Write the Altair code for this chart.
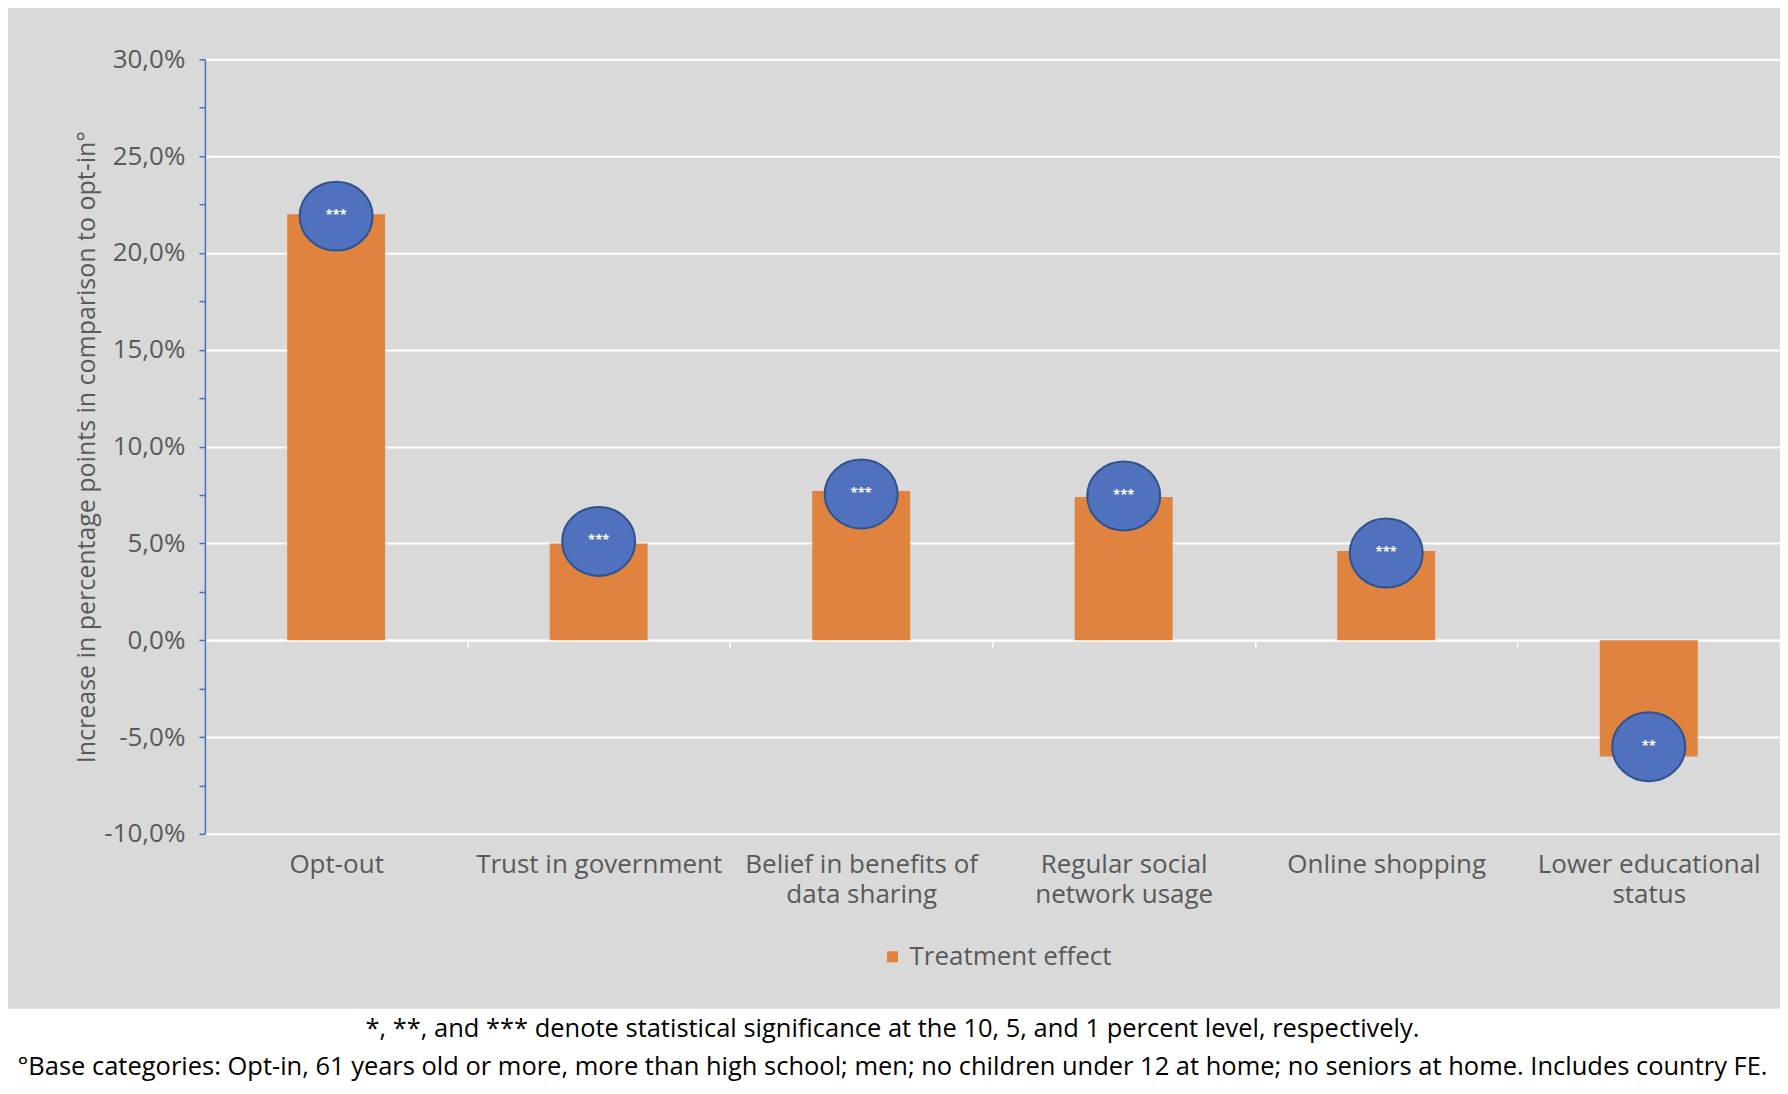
import altair as alt
import pandas as pd

categories = ["Opt-out", "Trust in government", "Belief in benefits of\ndata sharing",
              "Regular social\nnetwork usage", "Online shopping", "Lower educational\nstatus"]
effects = [22.0, 5.0, 7.7, 7.4, 4.6, -6.0]
marker_pos = [21.9, 5.1, 7.55, 7.45, 4.5, -5.5]
stars = ["***", "***", "***", "***", "***", "**"]
series_name = "Treatment effect"
y_ticks = [-10, -7.5, -5, -2.5, 0, 2.5, 5, 7.5, 10, 12.5, 15, 17.5, 20, 22.5, 25, 27.5, 30]
y_title = "Increase in percentage points in comparison to opt-in°"
footnote1 = "*, **, and *** denote statistical significance at the 10, 5, and 1 percent level, respectively."
footnote2 = ("°Base categories: Opt-in, 61 years old or more, more than high school; men; "
             "no children under 12 at home; no seniors at home. Includes country FE.")

df = pd.DataFrame({"cat": categories, "effect": effects, "marker": marker_pos,
                   "stars": stars, "series": [series_name] * len(categories)})

W, H = 1576, 775
FONT = "Open Sans"
GREY_TXT = "#595959"
LBL = 26

xscale = alt.Scale(domain=categories, paddingInner=0, paddingOuter=0)
yscale = alt.Scale(domain=[-10, 30], nice=False, zero=False)

x_enc = alt.X("cat:N", scale=xscale, sort=categories, axis=alt.Axis(
    title=None, orient="bottom", offset=-(H * 10 / 40), tickBand="extent",
    ticks=True, tickColor="white", tickSize=7, tickWidth=1.5,
    domain=True, domainColor="white", domainWidth=2,
    labelExpr="split(datum.label, '\\n')", labelAngle=0, labelLimit=0,
    labelFont=FONT, labelFontSize=LBL, labelColor=GREY_TXT, labelLineHeight=30,
    labelPadding=204, grid=False))

y_enc = alt.Y("effect:Q", scale=yscale, axis=alt.Axis(
    values=y_ticks, title=y_title, titleFont=FONT, titleFontSize=25,
    titleFontWeight="normal", titleColor=GREY_TXT, titleX=-105,
    labelExpr="datum.value % 5 === 0 ? (datum.value < 0 ? '-' : '') + replace(format(abs(datum.value), '.1f'), '.', ',') + '%' : ''",
    labelFont=FONT, labelFontSize=LBL, labelColor=GREY_TXT, labelPadding=14, labelLimit=0,
    domainColor="#4472C4", domainWidth=1.5, tickColor="#4472C4", tickSize=6, tickWidth=1.5,
    grid=True, gridColor="white", gridWidth=2,
    gridOpacity={"condition": {"test": "datum.value % 5 === 0", "value": 1}, "value": 0}))

bars = alt.Chart(df).mark_bar(size=98).encode(
    x=x_enc, y=y_enc, y2=alt.datum(0),
    color=alt.Color("series:N", scale=alt.Scale(domain=[series_name], range=["#E0833F"]),
                    legend=alt.Legend(orient="none", legendX=675, legendY=885, title=None,
                                      symbolType="square", symbolSize=121, symbolStrokeWidth=0,
                                      labelFont=FONT, labelFontSize=LBL, labelColor=GREY_TXT,
                                      labelLimit=0, labelOffset=4, padding=0)))

ellipse_path = "M-1,0A1,0.945,0,1,1,1,0A1,0.945,0,1,1,-1,0Z"
markers = alt.Chart(df).mark_point(shape=ellipse_path, size=5329, filled=True,
                                   fill="#4F71BE", stroke="#2F528F", strokeWidth=2,
                                   opacity=1).encode(
    x=alt.X("cat:N", scale=xscale, sort=categories),
    y=alt.Y("marker:Q", scale=yscale))

star_text = alt.Chart(df).mark_text(color="white", fontSize=13, fontWeight="bold",
                                    font=FONT, baseline="middle", dy=-1).encode(
    x=alt.X("cat:N", scale=xscale, sort=categories),
    y=alt.Y("marker:Q", scale=yscale),
    text="stars:N")

white_box = alt.Chart(df.head(1)).mark_rect(color="white").encode(
    x=alt.value(-200), x2=alt.value(W + 10), y=alt.value(950), y2=alt.value(1040))

note1 = alt.Chart(df.head(1)).mark_text(font=FONT, fontSize=25.5, color="black",
                                        align="center", baseline="middle").encode(
    x=alt.value(688), y=alt.value(970), text=alt.value(footnote1))
note2 = alt.Chart(df.head(1)).mark_text(font=FONT, fontSize=25.5, color="black",
                                        align="center", baseline="middle").encode(
    x=alt.value(688), y=alt.value(1008), text=alt.value(footnote2))

chart = alt.layer(bars, markers, star_text, white_box, note1, note2).properties(
    width=W, height=H,
    autosize=alt.AutoSizeParams(type="none"),
    padding={"left": 197, "top": 51, "right": 0, "bottom": 260},
    background="#D9D9D9",
).configure_view(stroke=None)

chart.save("out.html", embed_options={"renderer": "svg", "actions": False})
